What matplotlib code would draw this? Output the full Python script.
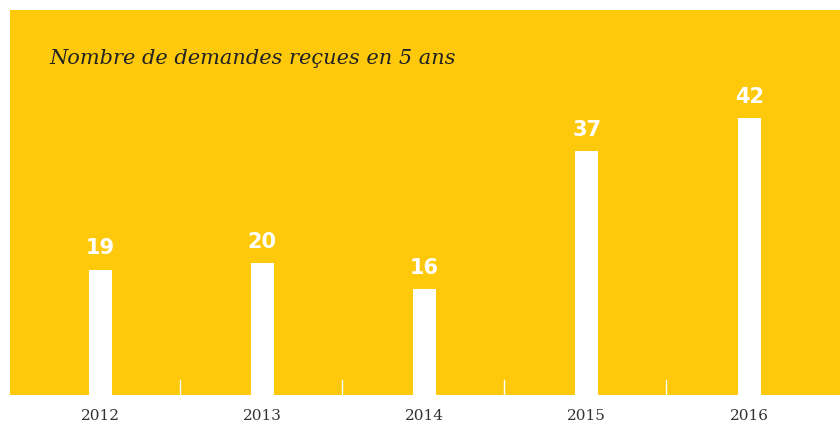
import matplotlib
matplotlib.use("Agg")
import matplotlib.pyplot as plt

# data
years = ["2012", "2013", "2014", "2015", "2016"]
demandes = [19, 20, 16, 37, 42]

yellow = "#FEC90A"

fig = plt.figure(figsize=(8.4, 4.25), dpi=100)
ax = fig.add_axes([10 / 840, 30 / 425, 830 / 840, 385 / 425])
ax.set_facecolor(yellow)

x = list(range(len(years)))
ax.bar(x, demandes, width=0.142, color="white", zorder=3)

for xi, v in zip(x, demandes):
    ax.annotate(str(v), (xi, v), xytext=(0, 8), textcoords="offset points",
                ha="center", va="bottom", color="white", fontsize=15,
                fontweight="bold", family="DejaVu Sans")

# small white separators between the years
for xi in x[:-1]:
    ax.plot([xi + 0.49, xi + 0.49], [0, 2.3], color="white", lw=1, zorder=2)

ax.set_xlim(-0.555, 4.56)
ax.set_ylim(0, 58.3)
ax.set_xticks(x)
ax.set_xticklabels(years, fontsize=11, color="#333333", family="DejaVu Serif")
ax.tick_params(axis="x", length=0, pad=10)
ax.set_yticks([])
for s in ax.spines.values():
    s.set_visible(False)

fig.text(49 / 840, 1 - 58 / 425, "Nombre de demandes reçues en 5 ans",
         fontsize=15, style="italic", family="DejaVu Serif", color="#222222",
         va="center", ha="left")

fig.savefig("out.png", dpi=100, facecolor="white")
